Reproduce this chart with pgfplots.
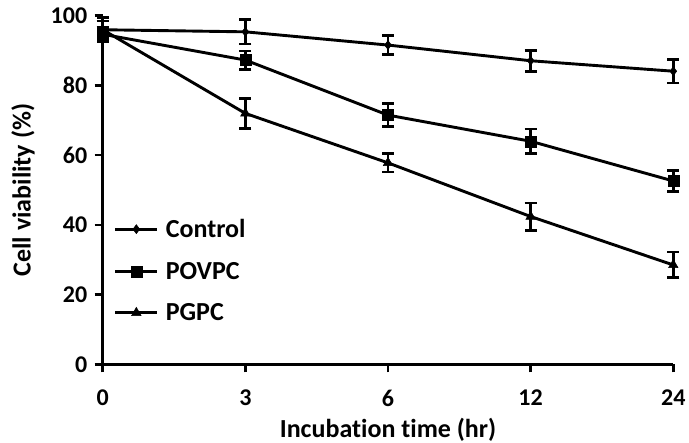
\documentclass[border=0pt]{standalone}
\usepackage{fontspec}
\setmainfont{Carlito}[Ligatures={NoCommon,NoRequired,NoContextual}]
\usepackage{pgfplots}
\pgfplotsset{compat=1.18}
\usepackage{pgfplotstable}

\pgfplotstableread{
x y e
0 96.0 3.5
1 95.4 3.5
2 91.6 2.7
3 87.1 3.0
4 84.1 3.4
}\control
\pgfplotstableread{
x y e
0 94.7 2.0
1 87.3 2.6
2 71.5 3.3
3 64.0 3.5
4 52.6 3.0
}\povpc
\pgfplotstableread{
x y e
0 96.0 2.5
1 72.0 4.3
2 57.8 2.6
3 42.4 3.9
4 28.5 3.7
}\pgpc

\begin{document}
\begin{tikzpicture}
\path[use as bounding box] (0,0) rectangle (689bp,443bp);
\begin{axis}[
  at={(102.7bp,78.7bp)},
  scale only axis,
  width=570.6bp, height=348.5bp,
  xmin=0, xmax=4, ymin=0, ymax=100,
  axis lines=left,
  axis line style={-, line width=2.8bp},
  xtick={0,1,2,3,4},
  xticklabels={0,3,6,12,24},
  ytick={0,20,40,60,80,100},
  tick style={line width=2.6bp, black},
  tick align=outside,
  major tick length=8bp,
  /pgf/number format/assume math mode=true,
  tick label style={font=\fontsize{24bp}{28bp}\selectfont\bfseries},
  xticklabel style={yshift=-14bp},
  yticklabel style={xshift=-4bp},
  xlabel={Incubat\kern0pt ion t\kern0pt ime (hr)},
  ylabel={Cell viability (\%)},
  label style={font=\fontsize{26bp}{30bp}\selectfont\bfseries},
  xlabel style={at={(axis description cs:0.5,-0.1885)}, anchor=center},
  ylabel style={at={(axis description cs:-0.1397,0.5)}, anchor=center},
  legend style={draw=none, fill=none, at={(0.014,0.2686)}, anchor=west,
    font=\fontsize{26bp}{30bp}\selectfont\bfseries, row sep=17bp,
    legend cell align=left,
    nodes={inner sep=3bp}},
  legend image code/.code={\draw[mark repeat=2, mark phase=2, #1] plot coordinates {(0bp,0bp) (21bp,0bp) (42bp,0bp)};\path (46bp,0bp);},
  clip=false,
]
\addplot[black, line width=2.9bp, mark=diamond*, mark size=4.5bp, mark options={solid, line width=0.5bp},
  error bars/.cd, y dir=both, y explicit,
  error bar style={line width=2.8bp, black},
  error mark options={rotate=90, mark size=6bp, line width=2.8bp, black}]
  table[x=x, y=y, y error=e] {\control};
\addlegendentry{Control}
\addplot[black, line width=2.9bp, mark=square*, mark size=5.5bp, mark options={solid, line width=0.5bp},
  error bars/.cd, y dir=both, y explicit,
  error bar style={line width=2.8bp, black},
  error mark options={rotate=90, mark size=6bp, line width=2.8bp, black}]
  table[x=x, y=y, y error=e] {\povpc};
\addlegendentry{POVPC}
\addplot[black, line width=2.9bp, mark=triangle*, mark size=5.5bp, mark options={solid, line width=0.5bp},
  error bars/.cd, y dir=both, y explicit,
  error bar style={line width=2.8bp, black},
  error mark options={rotate=90, mark size=6bp, line width=2.8bp, black}]
  table[x=x, y=y, y error=e] {\pgpc};
\addlegendentry{PGPC}
\end{axis}
\end{tikzpicture}
\end{document}
